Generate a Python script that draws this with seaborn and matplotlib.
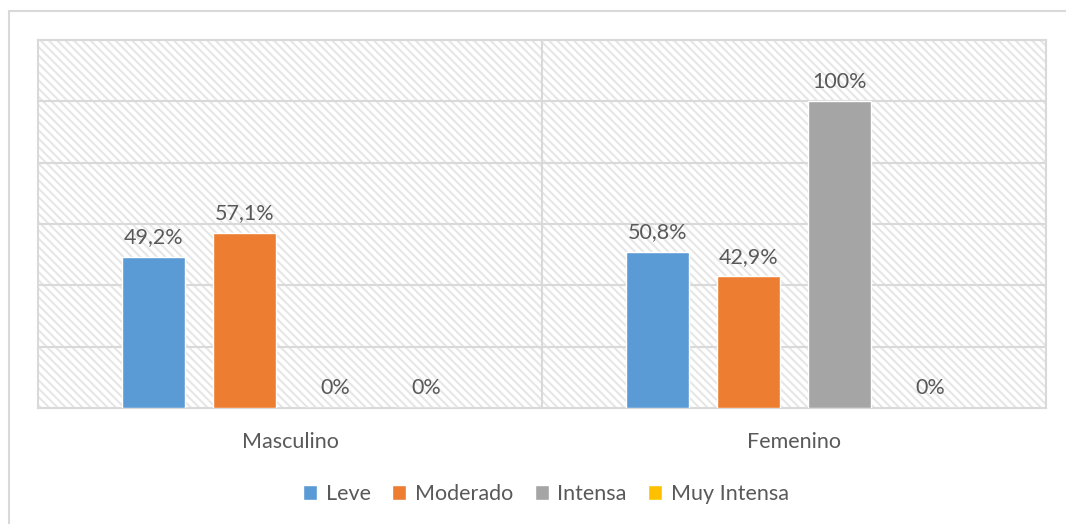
import matplotlib
matplotlib.use("Agg")
import matplotlib.pyplot as plt
from matplotlib.patches import Rectangle
import seaborn as sns
import pandas as pd

categories = ["Masculino", "Femenino"]
series = ["Leve", "Moderado", "Intensa", "Muy Intensa"]
leve = [49.2, 50.8]
moderado = [57.1, 42.9]
intensa = [0, 100]
muy_intensa = [0, 0]
labels_leve = ["49,2%", "50,8%"]
labels_moderado = ["57,1%", "42,9%"]
labels_intensa = ["0%", "100%"]
labels_muy_intensa = ["0%", "0%"]
colors = ["#5B9BD5", "#ED7D31", "#A5A5A5", "#FFC000"]

rows = []
for s, vals in zip(series, [leve, moderado, intensa, muy_intensa]):
    for c, v in zip(categories, vals):
        rows.append({"Sexo": c, "Nivel": s, "Valor": v})
df = pd.DataFrame(rows)

sns.set_theme(style="white")
plt.rcParams['font.family'] = ['Lato', 'DejaVu Sans']
plt.rcParams['hatch.linewidth'] = 1.5
plt.rcParams['hatch.color'] = '#e6e6e6'

fig = plt.figure(figsize=(10.66, 5.24), dpi=100)
ax = fig.add_axes([38/1066, 1-408/524, (1046-38)/1066, (408-40)/524])

# outer chart border
fig.patches.append(Rectangle((9/1066, -0.1), 1.2, 1.1 - 11/524, transform=fig.transFigure,
                             facecolor='none', edgecolor='#d9d9d9', linewidth=1.5, zorder=0))

# hatched plot background
ax.add_patch(Rectangle((0, 0), 1, 1, transform=ax.transAxes, facecolor='white',
                       hatch='\\\\\\\\', edgecolor='#e6e6e6', linewidth=0, zorder=0))

sns.barplot(data=df, x="Sexo", y="Valor", hue="Nivel", order=categories, hue_order=series,
            palette=colors, width=0.722, gap=0.3, saturation=1, ax=ax, zorder=3, legend=True)

ax.set_xlim(-0.5, 1.5)
ax.set_ylim(0, 120)
ax.set_yticks([0, 20, 40, 60, 80, 100, 120])
ax.set_yticklabels([])
for y in [20, 40, 60, 80, 100, 120]:
    ax.axhline(y, color='#d9d9d9', lw=1.5, zorder=1)
ax.axvline(0.5, color='#d9d9d9', lw=1.5, zorder=1)
for sp in ax.spines.values():
    sp.set_color('#d9d9d9')
    sp.set_linewidth(1.5)
ax.tick_params(axis='both', length=0)
ax.tick_params(axis='x', labelsize=15.5, labelcolor='#595959', pad=17)
ax.set_xlabel("")
ax.set_ylabel("")

for cont, labs in zip(ax.containers, [labels_leve, labels_moderado, labels_intensa, labels_muy_intensa]):
    ax.bar_label(cont, labels=labs, padding=7, fontsize=15.5, color='#595959')

handles, lbls = ax.get_legend_handles_labels()
ax.get_legend().remove()
fig.legend(handles, lbls, loc='center', bbox_to_anchor=(546/1066, 1-494/524), ncol=4,
           frameon=False, fontsize=15.5, handlelength=0.65, handleheight=0.65,
           handletextpad=0.4, columnspacing=1.0, labelcolor='#595959')

fig.savefig("out.png", dpi=100)
